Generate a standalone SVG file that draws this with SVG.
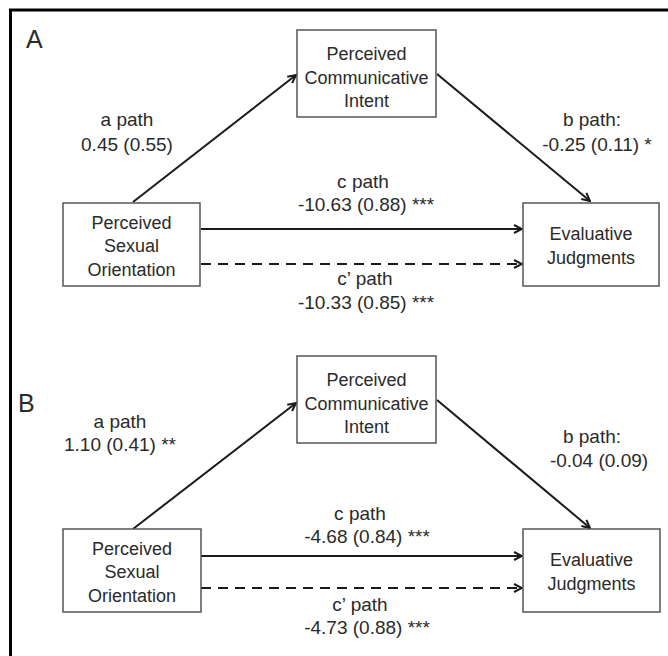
<svg xmlns="http://www.w3.org/2000/svg" width="668" height="656" viewBox="0 0 668 656">
<style>
.box{fill:#fff;stroke:#555;stroke-width:1.5}
.nt{font-family:"Liberation Sans",Arial,sans-serif;font-size:18px;fill:#2a2a2a;text-anchor:middle}
.lb{font-family:"Liberation Sans",Arial,sans-serif;font-size:19px;fill:#2a2a2a;text-anchor:middle}
.pl{font-family:"Liberation Sans",Arial,sans-serif;font-size:25px;fill:#2a2a2a}
.ln{fill:none;stroke:#1a1a1a;stroke-width:2}
.dash{stroke-dasharray:10 7}
</style>
<defs>
<marker id="ah" viewBox="0 0 10 10" refX="9" refY="5" markerWidth="10" markerHeight="10" markerUnits="userSpaceOnUse" orient="auto">
<path d="M1,1 L9,5 L1,9" fill="none" stroke="#1a1a1a" stroke-width="2"/>
</marker>
</defs>
<rect width="668" height="656" fill="#fff"/>
<path d="M10.5,656 L10.5,10 L668,10" fill="none" stroke="#000" stroke-width="3"/>
<text class="pl" x="26" y="48">A</text>
<text class="pl" x="18" y="412">B</text>
<g id="connectors">
<line class="ln" x1="133" y1="202" x2="296" y2="75" marker-end="url(#ah)"/>
<line class="ln" x1="437" y1="74" x2="590" y2="201" marker-end="url(#ah)"/>
<line class="ln" x1="201" y1="229" x2="522" y2="229" marker-end="url(#ah)"/>
<line class="ln dash" x1="201" y1="264" x2="522" y2="264" marker-end="url(#ah)"/>
<line class="ln" x1="133" y1="529" x2="296" y2="403" marker-end="url(#ah)"/>
<line class="ln" x1="437" y1="400" x2="590" y2="528" marker-end="url(#ah)"/>
<line class="ln" x1="201" y1="556" x2="522" y2="556" marker-end="url(#ah)"/>
<line class="ln dash" x1="201" y1="588" x2="522" y2="588" marker-end="url(#ah)"/>
</g>
<g id="labels">
<text class="lb" x="127" y="126">a path</text>
<text class="lb" x="127" y="151">0.45 (0.55)</text>
<text class="lb" x="592" y="126">b path:</text>
<text class="lb" x="597" y="151">-0.25 (0.11) *</text>
<text class="lb" x="363" y="188">c path</text>
<text class="lb" x="366" y="211">-10.63 (0.88) ***</text>
<text class="lb" x="365" y="285">c’ path</text>
<text class="lb" x="366" y="309">-10.33 (0.85) ***</text>
<text class="lb" x="120" y="428">a path</text>
<text class="lb" x="120" y="451">1.10 (0.41) **</text>
<text class="lb" x="592" y="443">b path:</text>
<text class="lb" x="599" y="467">-0.04 (0.09)</text>
<text class="lb" x="360" y="520">c path</text>
<text class="lb" x="367" y="543">-4.68 (0.84) ***</text>
<text class="lb" x="360" y="611">c’ path</text>
<text class="lb" x="367" y="634">-4.73 (0.88) ***</text>
</g>
<g id="A-pci">
<rect class="box" x="297" y="30" width="139" height="87"/>
<text class="nt" x="366.5" y="60">Perceived</text>
<text class="nt" x="366.5" y="84">Communicative</text>
<text class="nt" x="366.5" y="107">Intent</text>
</g>
<g id="A-pso">
<rect class="box" x="63" y="203" width="137" height="83"/>
<text class="nt" x="131.5" y="229">Perceived</text>
<text class="nt" x="131.5" y="252">Sexual</text>
<text class="nt" x="131.5" y="276">Orientation</text>
</g>
<g id="A-ej">
<rect class="box" x="523" y="203" width="136" height="83"/>
<text class="nt" x="591" y="240">Evaluative</text>
<text class="nt" x="591" y="264">Judgments</text>
</g>
<g id="B-pci">
<rect class="box" x="297" y="356" width="139" height="87"/>
<text class="nt" x="366.5" y="386">Perceived</text>
<text class="nt" x="366.5" y="410">Communicative</text>
<text class="nt" x="366.5" y="433">Intent</text>
</g>
<g id="B-pso">
<rect class="box" x="63" y="529" width="138" height="83"/>
<text class="nt" x="132" y="555">Perceived</text>
<text class="nt" x="132" y="578">Sexual</text>
<text class="nt" x="132" y="602">Orientation</text>
</g>
<g id="B-ej">
<rect class="box" x="523" y="529" width="137" height="83"/>
<text class="nt" x="591.5" y="566">Evaluative</text>
<text class="nt" x="591.5" y="590">Judgments</text>
</g>
</svg>
